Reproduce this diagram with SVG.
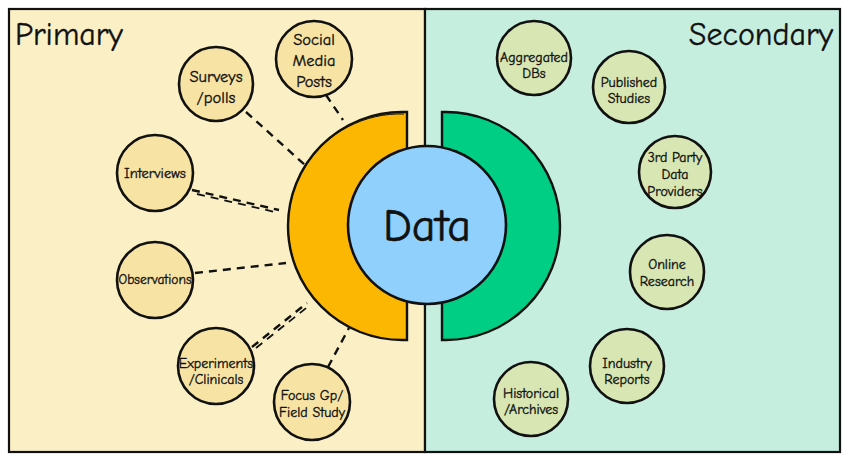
<svg xmlns="http://www.w3.org/2000/svg" width="849" height="458" viewBox="0 0 849 458">
<style>
text{font-family:"Comic Sans MS","Comic Neue","Liberation Sans",sans-serif;fill:#111;text-anchor:middle;stroke:#111;stroke-width:0.35}
.panel{stroke:#111;stroke-width:2.2}
.p{fill:#f7e4a5;stroke:#111;stroke-width:2.6}
.s{fill:#d7e6b2;stroke:#111;stroke-width:2.6}
.n{font-size:14px}
.c{fill:none;stroke:#111;stroke-width:2.4;stroke-dasharray:8 6}
.c2{fill:none;stroke:#111;stroke-width:1.8;stroke-dasharray:8 6}
</style>
<rect width="849" height="458" fill="#fff"/>
<g id="primary-panel">
<rect class="panel" x="9" y="9" width="416" height="443" fill="#fbefc6"/>
<text x="15" y="45" style="font-size:32px;text-anchor:start">Primary</text>
</g>
<g id="secondary-panel">
<rect class="panel" x="425" y="9" width="415" height="443" fill="#c5eedf"/>
<text x="833" y="45" style="font-size:32px;text-anchor:end">Secondary</text>
</g>
<g id="connectors">
<line class="c" x1="326" y1="95" x2="343" y2="120"/>
<line class="c" x1="246" y1="112" x2="305" y2="165"/>
<line class="c" x1="192" y1="190" x2="279" y2="210"/>
<line class="c2" x1="197" y1="194" x2="275" y2="212"/>
<line class="c" x1="195" y1="273" x2="286" y2="263"/>
<line class="c" x1="252" y1="347" x2="307" y2="303"/>
<line class="c2" x1="256" y1="348" x2="310" y2="305"/>
<line class="c" x1="328" y1="367" x2="349" y2="328"/>
</g>
<g id="primary-ring">
<path d="M407 112 L407 340 L402 340 A114 114 0 0 1 402 112 Z" fill="#fbb701" stroke="#111" stroke-width="2.4"/>
<path d="M404 114 A112 112 0 0 0 300 276" fill="none" stroke="#111" stroke-width="1"/>
</g>
<g id="secondary-ring">
<path d="M442 112 L442 340 L446 340 A114 114 0 0 0 446 112 Z" fill="#00ce84" stroke="#111" stroke-width="2.4"/>
</g>
<g id="data">
<circle cx="427" cy="225" r="79" fill="#8fd0fc" stroke="#111" stroke-width="2.6"/>
<text x="427" y="241" style="font-size:46px;stroke-width:0.6">Data</text>
</g>
<g id="social-media-posts">
<circle class="p" cx="314" cy="59" r="38"/>
<text class="n" x="314" y="45" style="font-size:16.5px">Social</text>
<text class="n" x="314" y="66" style="font-size:16.5px">Media</text>
<text class="n" x="314" y="87" style="font-size:16.5px">Posts</text>
</g>
<g id="surveys-polls">
<circle class="p" cx="216" cy="84" r="37"/>
<text class="n" x="216" y="82" style="font-size:16.5px">Surveys</text>
<text class="n" x="216" y="103" style="font-size:16.5px">/polls</text>
</g>
<g id="interviews">
<circle class="p" cx="155" cy="173" r="38"/>
<text class="n" x="155" y="178" style="font-size:14.5px">Interviews</text>
</g>
<g id="observations">
<circle class="p" cx="155" cy="280" r="38"/>
<text class="n" x="155" y="284" style="font-size:13.5px">Observations</text>
</g>
<g id="experiments-clinicals">
<circle class="p" cx="216" cy="366" r="38"/>
<text class="n" x="216" y="368">Experiments</text>
<text class="n" x="216" y="384">/Clinicals</text>
</g>
<g id="focus-gp-field-study">
<circle class="p" cx="312" cy="402" r="38"/>
<text class="n" x="312" y="400">Focus Gp/</text>
<text class="n" x="312" y="417">Field Study</text>
</g>
<g id="aggregated-dbs">
<circle class="s" cx="534" cy="58" r="37"/>
<text class="n" x="534" y="62">Aggregated</text>
<text class="n" x="534" y="78">DBs</text>
</g>
<g id="published-studies">
<circle class="s" cx="629" cy="87" r="36"/>
<text class="n" x="629" y="87">Published</text>
<text class="n" x="629" y="103">Studies</text>
</g>
<g id="third-party-data-providers">
<circle class="s" cx="675" cy="172" r="36"/>
<text class="n" x="675" y="162">3rd Party</text>
<text class="n" x="675" y="179">Data</text>
<text class="n" x="675" y="196">Providers</text>
</g>
<g id="online-research">
<circle class="s" cx="667" cy="272" r="37"/>
<text class="n" x="667" y="269">Online</text>
<text class="n" x="667" y="286">Research</text>
</g>
<g id="industry-reports">
<circle class="s" cx="627" cy="366" r="37"/>
<text class="n" x="627" y="368">Industry</text>
<text class="n" x="627" y="384">Reports</text>
</g>
<g id="historical-archives">
<circle class="s" cx="531" cy="399" r="37"/>
<text class="n" x="531" y="398">Historical</text>
<text class="n" x="531" y="414">/Archives</text>
</g>
</svg>
